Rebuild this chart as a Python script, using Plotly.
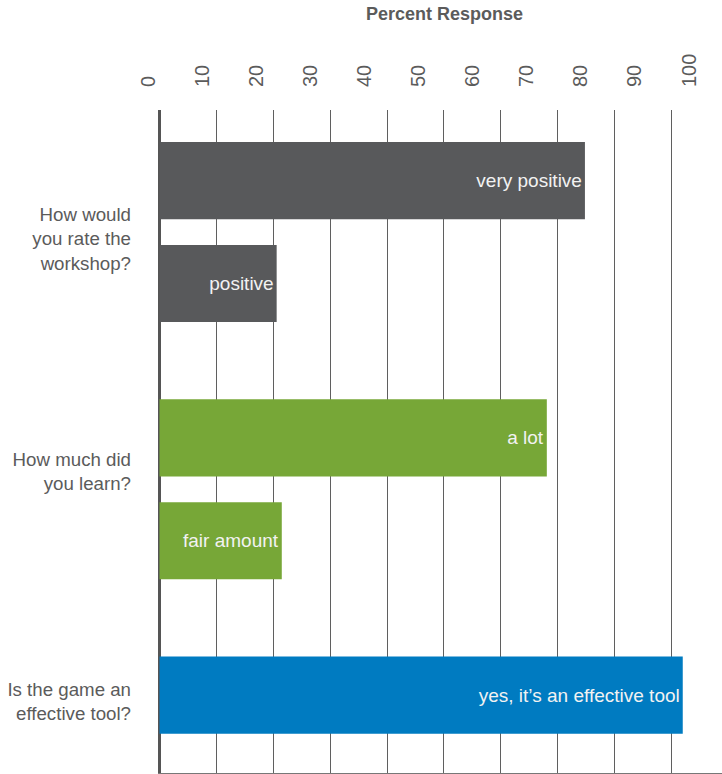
import plotly.graph_objects as go

# Survey questions (y-axis categories), answers and percent responses
questions = [
    "How would<br>you rate the<br>workshop?",
    "How much did<br>you learn?",
    "Is the game an<br>effective tool?",
]
answers = [
    ["very positive", "positive"],
    ["a lot", "fair amount"],
    ["yes, it\u2019s an effective tool"],
]
percents = [
    [74.8, 20.6],
    [68.1, 21.5],
    [92.0],
]
tick_values = [0, 10, 20, 30, 40, 50, 60, 70, 80, 90, 100]

# Styling
group_colors = ["#58595b", "#77a737", "#007bc1"]
text_gray = "#5b5b5b"
grid_gray = "#5f5f5f"
font_family = "Liberation Sans, Arial, sans-serif"

# Row positions: bars within a question are 2 units apart, questions 5 units apart
ys, xs, texts, colors = [], [], [], []
for g, (ans, vals) in enumerate(zip(answers, percents)):
    for i, (a, v) in enumerate(zip(ans, vals)):
        ys.append(g * 5 + i * 2)
        xs.append(v)
        texts.append(a)
        colors.append(group_colors[g])

question_pos = [1.13, 5.66, 10.13]

fig = go.Figure()
fig.add_trace(go.Bar(
    orientation="h",
    x=xs, y=ys, width=1.5,
    marker=dict(color=colors, line=dict(width=0)),
    text=texts, textposition="inside", insidetextanchor="end",
    textfont=dict(color="#f2f2f2", size=19, family=font_family),
    hoverinfo="skip", showlegend=False,
))
# carrier for the labelled top axis
fig.add_trace(go.Scatter(x=[], y=[], xaxis="x2", yaxis="y2",
                         showlegend=False, hoverinfo="skip"))

W, H = 722, 774
L, T, B = 140, 110, 1
plot_w = W - L
x_left = 158          # pixel where the bar plot starts
x0_px, x_unit = 159.5, 5.6875     # grid scale
lab0_px, lab_unit = 148.3, 5.407  # labelled scale
y0_px, y_unit = 180.6, 51.45

fig.update_layout(
    width=W, height=H,
    margin=dict(l=L, r=0, t=T, b=B, pad=0),
    paper_bgcolor="white", plot_bgcolor="rgba(0,0,0,0)",
    font=dict(family=font_family, color=text_gray),
    hovermode=False,
    title=dict(text="<b>Percent Response</b>", x=444.5 / W, xanchor="center",
               xref="container", y=1 - 7 / H, yanchor="top", yref="container",
               font=dict(size=18, color=text_gray, family=font_family)),
    xaxis=dict(
        domain=[(x_left - L) / plot_w, 1],
        range=[(x_left - x0_px) / x_unit, (W - x0_px) / x_unit],
        tickvals=tick_values, showticklabels=False, ticks="",
        showgrid=True, gridcolor=grid_gray, gridwidth=1.3,
        zeroline=True, zerolinecolor="#555555", zerolinewidth=3,
        showline=True, linecolor="#777777", linewidth=1.5,
        fixedrange=True,
    ),
    yaxis=dict(
        range=[(H - B - y0_px) / y_unit, (T - y0_px) / y_unit],
        tickvals=question_pos, ticktext=questions,
        tickfont=dict(size=18.7, color=text_gray),
        ticks="", showgrid=False, zeroline=False, showline=False,
        ticklabelstandoff=26, automargin=False, fixedrange=True,
    ),
    xaxis2=dict(
        domain=[0, 1], anchor="y2", side="top",
        range=[(L - lab0_px) / lab_unit, (W - lab0_px) / lab_unit],
        tickvals=tick_values, tickangle=-90,
        tickfont=dict(size=20, color=text_gray),
        ticks="", showgrid=False, zeroline=False, showline=False,
        ticklabelstandoff=22, automargin=False, fixedrange=True,
    ),
    yaxis2=dict(domain=[0, 1], anchor="x2", visible=False, range=[0, 1],
                fixedrange=True),
)

fig.write_html("out.html", config={"displayModeBar": False})
